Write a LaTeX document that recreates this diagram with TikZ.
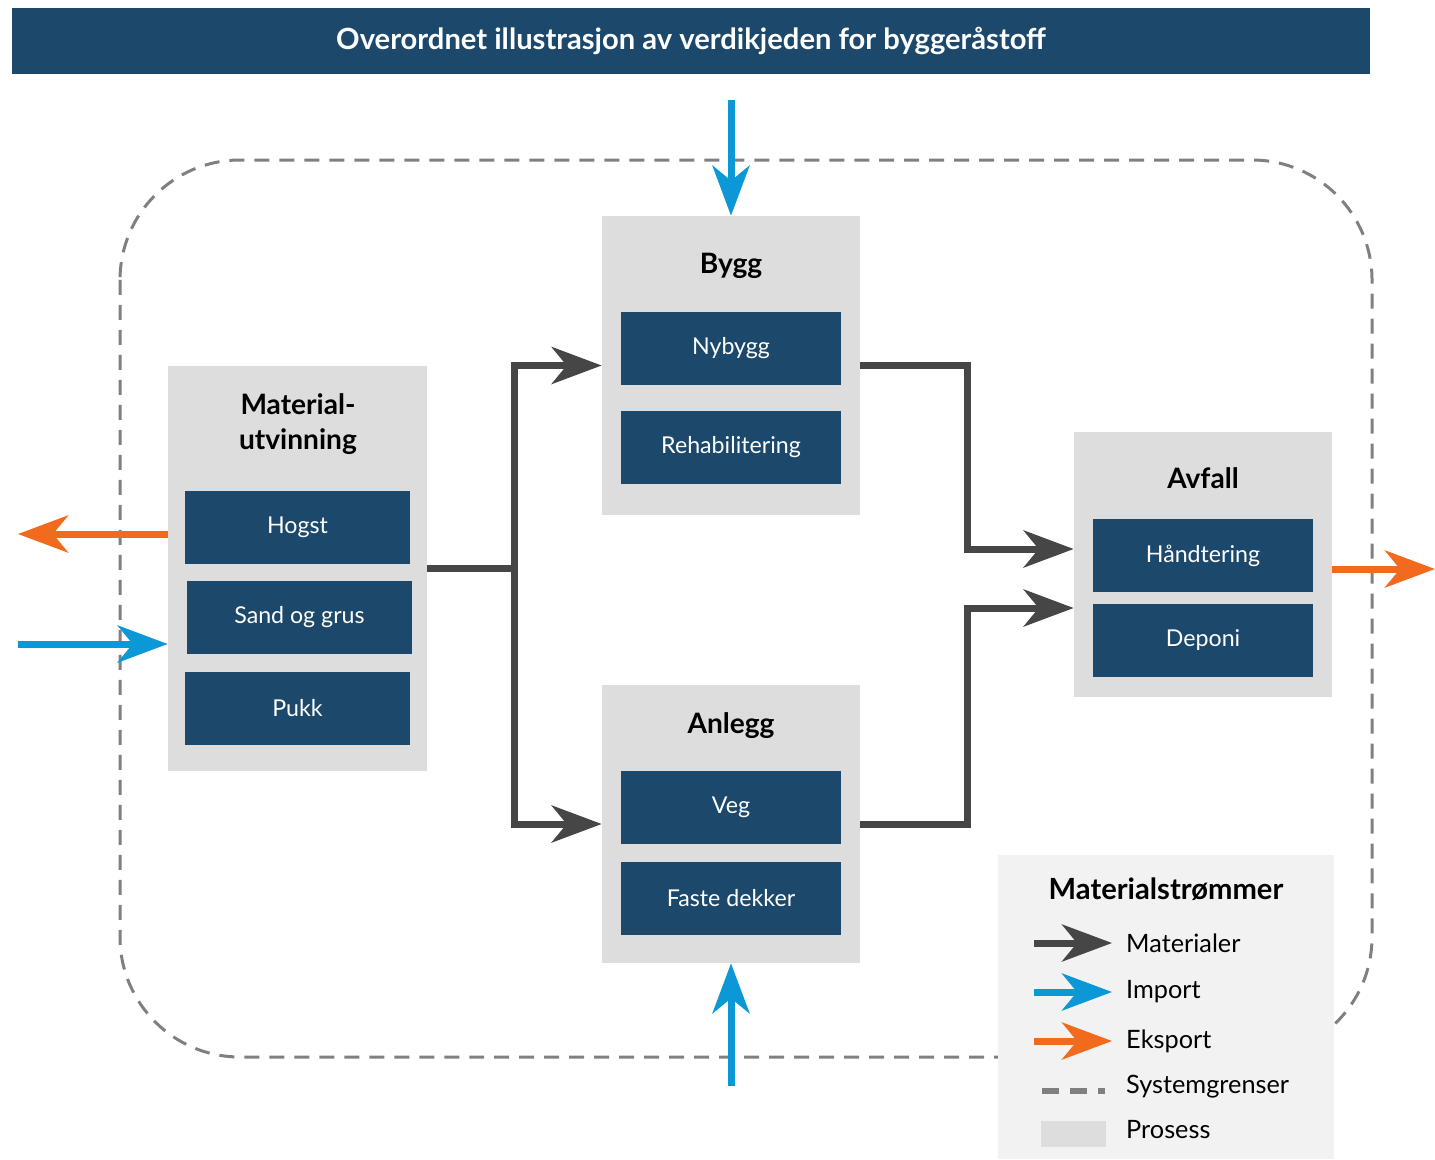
\documentclass[tikz,border=0pt]{standalone}
\usepackage{fontspec}
\setmainfont{Lato}
\usepackage{xcolor}
\definecolor{vkblue}{RGB}{28,73,107}
\definecolor{vkgray}{RGB}{70,70,70}
\definecolor{vkimport}{RGB}{12,152,214}
\definecolor{vkexport}{RGB}{242,106,30}
\definecolor{vkprocess}{RGB}{221,221,221}
\definecolor{vkdash}{RGB}{128,128,128}
\definecolor{vklegend}{RGB}{242,242,242}
\usetikzlibrary{arrows.meta, positioning, calc}

\tikzset{
  process/.style={fill=vkprocess, draw=none, minimum width=5.16cm, inner sep=0pt},
  subbox/.style={fill=vkblue, draw=none, text=white, minimum width=4.4cm, minimum height=1.46cm, inner sep=0pt, font=\fontsize{13.2}{15}\selectfont},
  heading/.style={font=\fontsize{16}{20}\selectfont\bfseries, align=center},
  flowtip/.style={-{Stealth[length=1cm, width=0.74cm, inset=0.3cm]}},
  matflow/.style={flowtip, line width=0.14cm, vkgray},
  impflow/.style={flowtip, line width=0.14cm, vkimport},
  expflow/.style={flowtip, line width=0.14cm, vkexport},
  sysline/.style={line width=0.06cm, vkdash, dash pattern=on 0.3cm off 0.2cm},
  legtext/.style={anchor=west, font=\fontsize{14.4}{16}\selectfont}
}

\begin{document}
\begin{tikzpicture}[x=0.02cm, y=-0.02cm]
  \useasboundingbox (0,0) rectangle (1435,1159);

  % Title bar
  \node[fill=vkblue, minimum width=27.16cm, minimum height=1.32cm, inner sep=0pt,
        text=white, font=\fontsize{16.6}{18}\selectfont\bfseries] (title) at (691,41)
        {Overordnet illustrasjon av verdikjeden for byggeråstoff};

  % System boundary
  \draw[sysline, rounded corners=2.4cm] (120,160) rectangle (1372,1057);

  % --- Process: Materialutvinning ---
  \node[process, minimum width=5.18cm, minimum height=8.1cm] (mat) at (297.5,568.5) {};
  \node[heading] (matlbl) at (298,424) {Material-\\utvinning};
  \node[subbox, minimum width=4.5cm] (hogst) at (297.5,527.5) {Hogst};
  \node[subbox, minimum width=4.5cm] (sand) at (299.5,617.5) {Sand og grus};
  \node[subbox, minimum width=4.5cm] (pukk) at (297.5,708.5) {Pukk};

  % --- Process: Bygg ---
  \node[process, minimum height=5.98cm] (bygg) at (731,365.5) {};
  \node[heading] (bygglbl) at (731,266) {Bygg};
  \node[subbox] (nybygg) at (731,348.5) {Nybygg};
  \node[subbox] (rehab) at (731,447.5) {Rehabilitering};

  % --- Process: Anlegg ---
  \node[process, minimum height=5.56cm] (anlegg) at (731,824) {};
  \node[heading] (anlegglbl) at (731,726) {Anlegg};
  \node[subbox] (veg) at (731,807.5) {Veg};
  \node[subbox] (faste) at (731,898.5) {Faste dekker};

  % --- Process: Avfall ---
  \node[process, minimum height=5.3cm] (avfall) at (1203,564.5) {};
  \node[heading] (avfalllbl) at (1203,478) {Avfall};
  \node[subbox] (handtering) at (1203,555.5) {Håndtering};
  \node[subbox] (deponi) at (1203,640.5) {Deponi};

  % Material flows
  \coordinate (split) at (514,568.5);
  \draw[line width=0.14cm, vkgray] (mat.east) -- (split);
  \draw[matflow] (split) |- (bygg.west);
  \draw[matflow] (split) |- (anlegg.west);
  \coordinate (byggout) at (967,365.5);
  \coordinate (anleggout) at (967,824);
  \draw[matflow] (bygg.east) -- (byggout) |- ($(avfall.west)+(0,-15.5)$);
  \draw[matflow] (anlegg.east) -- (anleggout) |- ($(avfall.west)+(0,43.5)$);

  % Import
  \coordinate (imptop) at (731,100);
  \coordinate (impbot) at (731,1086);
  \coordinate (impleft) at (18,644);
  \draw[impflow] (imptop) -- (bygg.north);
  \draw[impflow] (impbot) -- (anlegg.south);
  \draw[impflow] (impleft) -- (mat.west |- impleft);

  % Export
  \coordinate (expleft) at (18,534);
  \coordinate (expright) at (1435,569);
  \draw[expflow] (mat.west |- expleft) -- (expleft);
  \draw[expflow] (avfall.east |- expright) -- (expright);

  % --- Legend ---
  \fill[vklegend] (998,855) rectangle (1334,1159);
  \node[font=\fontsize{16.6}{18}\selectfont\bfseries] (legtitle) at (1166,889) {Materialstrømmer};
  \coordinate (l1a) at (1034,943); \coordinate (l1b) at (1112,943);
  \coordinate (l2a) at (1034,992); \coordinate (l2b) at (1112,992);
  \coordinate (l3a) at (1034,1041); \coordinate (l3b) at (1112,1041);
  \coordinate (l4a) at (1042,1091); \coordinate (l4b) at (1105,1091);
  \draw[matflow] (l1a) -- (l1b);
  \draw[impflow] (l2a) -- (l2b);
  \draw[expflow] (l3a) -- (l3b);
  \draw[line width=0.12cm, vkdash, dash pattern=on 0.34cm off 0.22cm] (l4a) -- (l4b);
  \fill[vkprocess] (1041,1121) rectangle (1106,1147);
  \node[legtext] (lmat) at (1120,943) {Materialer};
  \node[legtext] (limp) at (1120,992) {Import};
  \node[legtext] (lexp) at (1120,1041) {Eksport};
  \node[legtext] (lsys) at (1120,1087) {Systemgrenser};
  \node[legtext] (lpro) at (1120,1130) {Prosess};
\end{tikzpicture}
\end{document}
